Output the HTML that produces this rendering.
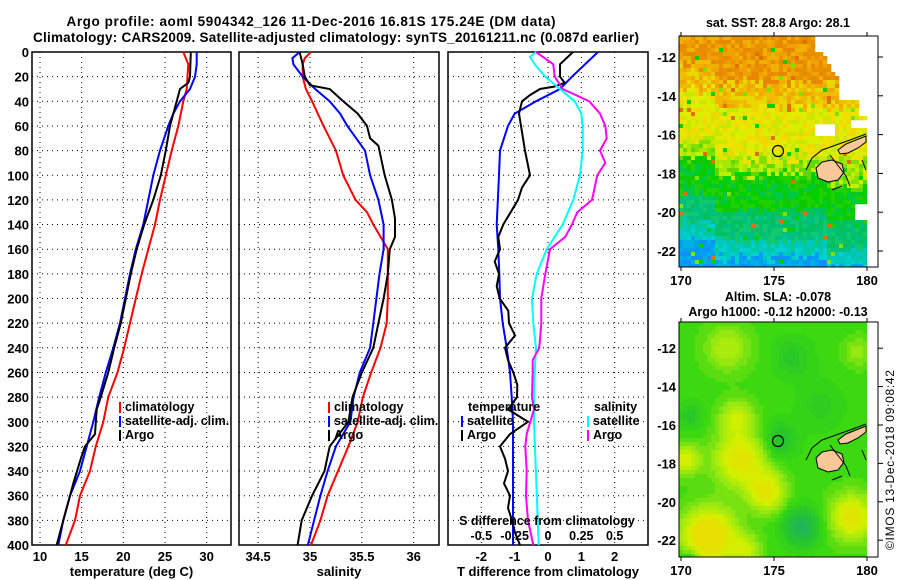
<!DOCTYPE html>
<html><head><meta charset="utf-8"><title>Argo profile</title>
<style>
html,body{margin:0;padding:0;background:#fff;}
svg{display:block;font-family:"Liberation Sans",sans-serif;font-weight:bold;}
</style></head>
<body>
<svg id="chart" width="900" height="580" viewBox="0 0 900 580" xmlns="http://www.w3.org/2000/svg">
<text x="311" y="26" font-size="13.5" text-anchor="middle" textLength="489">Argo profile: aoml 5904342_126 11-Dec-2016 16.81S 175.24E (DM data)</text>
<text x="336" y="42" font-size="13.5" text-anchor="middle" textLength="606">Climatology: CARS2009. Satellite-adjusted climatology: synTS_20161211.nc (0.087d earlier)</text>
<g id="maps"></g>
<g id="plots"></g>
<text transform="translate(894,460) rotate(-90)" font-size="12" font-weight="normal" text-anchor="middle" textLength="180">©IMOS 13-Dec-2018 09:08:42</text>
</svg>
<script>
// ---- data (depth in dbar) ----
const depthTick = [0,20,40,60,80,100,120,140,160,180,200,220,240,260,280,300,320,340,360,380,400];
const tempTicks = [10,15,20,25,30];
const salTicks = [34.5,35,35.5,36];
const tdiffTicks = [-2,-1,0,1,2];
const sdiffTicks = [-0.5,-0.25,0,0.25,0.5];

const tClimDepth = [0,10,30,40,60,80,100,120,140,160,180,200,220,240,260,280,300,320,340,360,380,400];
const tClim      = [27.2,27.8,27.6,27.2,26.6,25.8,25.1,24.4,23.8,23.0,22.2,21.5,20.8,20.1,19.3,18.2,17.6,16.7,16.0,14.8,14.2,13.1];
const tSatDepth = [0,10,20,30,40,50,60,80,100,120,140,160,180,200,220,240,260,280,300,320,340,360,380,400];
const tSat      = [28.8,28.8,28.6,28.0,26.8,26.0,25.4,24.4,23.6,23.0,22.4,21.5,20.8,20.2,19.6,18.8,17.9,17.1,16.4,15.6,14.8,13.6,12.8,12.2];
const tArgoDepth = [0,20,25,30,40,60,80,100,120,140,160,180,200,220,240,260,280,290,310,320,330,350,360,380,400];
const tArgo      = [28.1,28.0,27.8,26.8,26.4,25.6,25.1,24.5,23.6,22.5,21.6,20.9,20.3,19.7,18.9,18.2,17.3,16.8,16.6,15.4,14.9,14.0,13.6,12.8,12.0];

const sClimDepth = [0,5,10,20,30,40,60,80,100,120,130,140,160,180,200,220,240,260,280,300,320,340,360,380,400];
const sClim      = [35.01,34.95,34.93,34.93,34.96,35.02,35.13,35.25,35.32,35.44,35.55,35.61,35.75,35.75,35.75,35.74,35.68,35.59,35.51,35.46,35.37,35.27,35.17,35.10,35.01];
const sSatDepth = [0,5,10,20,30,40,50,60,80,100,120,140,160,180,200,220,240,260,280,300,320,340,360,380,400];
const sSat      = [34.90,34.83,34.84,34.93,35.05,35.19,35.29,35.36,35.53,35.58,35.66,35.71,35.71,35.67,35.64,35.61,35.58,35.48,35.42,35.39,35.25,35.17,35.10,35.04,34.98];
const sArgoDepth = [0,10,20,27,30,40,50,60,70,76,100,120,135,150,160,180,200,220,240,260,280,300,320,340,350,360,380,400];
const sArgo      = [34.90,34.93,34.95,35.00,35.19,35.32,35.46,35.55,35.58,35.66,35.72,35.79,35.82,35.82,35.77,35.75,35.71,35.66,35.61,35.50,35.41,35.37,35.19,35.14,35.08,35.02,34.92,34.88];

const dTSatDepth = [0,20,30,40,50,60,80,100,140,160,180,200,220,240,260,280,300,400];
const dTSat      = [1.5,0.72,0.36,-0.36,-1.0,-1.2,-1.44,-1.47,-1.54,-1.49,-1.46,-1.44,-1.36,-1.24,-1.14,-1.09,-1.05,-1.05];
const dTArgoDepth = [0,10,20,25,28,30,35,40,50,60,70,80,100,110,120,140,150,160,170,180,190,200,210,220,230,240,250,260,270,280,290,300,310,320,330,340,350,360,370,380,390,400];
const dTArgo      = [0.75,0.36,0.36,0.5,0.2,-0.24,-0.54,-0.78,-0.87,-0.81,-0.75,-0.69,-0.54,-0.78,-0.9,-1.34,-1.49,-1.44,-1.6,-1.47,-1.54,-1.45,-1.19,-1.17,-0.99,-1.29,-1.2,-1.04,-0.92,-0.93,-1.2,-0.6,-1.14,-1.44,-1.29,-1.2,-1.32,-1.14,-1.2,-1.08,-0.99,-0.84];
const dSSatDepth = [0,4,10,20,30,40,50,60,80,100,120,140,160,180,200,220,240,260,280,300,400];
const dSSat      = [-0.09,-0.135,-0.1,-0.02,0.09,0.2,0.25,0.26,0.26,0.24,0.19,0.11,-0.01,-0.085,-0.12,-0.11,-0.09,-0.1,-0.105,-0.105,-0.07];
const dSArgoDepth = [0,10,20,30,40,50,60,70,80,90,100,120,130,140,150,160,180,200,220,240,250,260,280,290,310,320,340,360,380,400];
const dSArgo      = [-0.09,0.04,0.05,0.11,0.31,0.39,0.43,0.44,0.39,0.43,0.37,0.33,0.22,0.18,0.13,0.015,-0.02,-0.05,-0.05,-0.065,-0.115,-0.115,-0.12,-0.105,-0.16,-0.17,-0.16,-0.165,-0.15,-0.11];

// ---- scales ----
const yD = d => 52 + d * 1.2325;
const xT = t => 40 + (t - 10) * 8.333;
const xS = s => 310 + (s - 35) * 103.7;
const xDT = v => 548 + v * 33.33;
const xDS = v => 548 + v * 133.33;

const NS = "http://www.w3.org/2000/svg";
function mk(tag, attrs, parent, text) {
  const e = document.createElementNS(NS, tag);
  for (const k in attrs) e.setAttribute(k, attrs[k]);
  if (text !== undefined) e.textContent = text;
  parent.appendChild(e);
  return e;
}
const plots = document.getElementById('plots');
const maps = document.getElementById('maps');

function panel(name, x0, x1, xticks, xf, labelFn, title) {
  const g = mk('g', {}, plots);
  
  
  const y0 = 52, y1 = 545;
  depthTick.forEach(d => {
    if (d > 0 && d < 400) {
      const l = mk('line', {x1:x0, x2:x1, y1:yD(d), y2:yD(d), stroke:'#000', 'stroke-width':1, 'stroke-dasharray':'1,4'}, g);
      
      
    }
  });
  xticks.forEach(t => {
    const x = xf(t);
    const l = mk('line', {x1:x, x2:x, y1:y0, y2:y1, stroke:'#000', 'stroke-width':1, 'stroke-dasharray':'1,4'}, g);
    
    
    if (labelFn) {
      const tx = mk('text', {x:x, y:561, 'font-size':13, 'text-anchor':'middle'}, g, labelFn(t));
      
      
    }
  });
  const r = mk('rect', {x:x0, y:y0, width:x1-x0, height:y1-y0, fill:'none', stroke:'#000', 'stroke-width':1.5}, g);
  
  
  const tt = mk('text', {x:(x0+x1)/2, y:576, 'font-size':13, 'text-anchor':'middle'}, g, title);
  
  
  return g;
}

function series(g, name, depths, vals, xf, color) {
  const pts = depths.map((d, i) => xf(vals[i]).toFixed(1) + ',' + yD(d).toFixed(1)).join(' ');
  const p = mk('polyline', {points:pts, fill:'none', stroke:color, 'stroke-width':2}, g);
  
  
}

function legend(g, x, y, color, label, name) {
  const b = mk('line', {x1:x, x2:x, y1:y-9, y2:y+2, stroke:color, 'stroke-width':2}, g);
  
  
  const t = mk('text', {x:x+5, y:y, 'font-size':12.5}, g, label);
  
  
}

depthTick.forEach(d => {
  const t = mk('text', {x:29, y:yD(d)+5, 'font-size':13, 'text-anchor':'end'}, plots, String(d));
  
  
});

const g1 = panel('temperature-panel', 32, 231, tempTicks, xT, t => String(t), 'temperature (deg C)');
series(g1, 'temp-climatology-line', tClimDepth, tClim, xT, '#ff0000');
series(g1, 'temp-satellite-line', tSatDepth, tSat, xT, '#0000ff');
series(g1, 'temp-argo-line', tArgoDepth, tArgo, xT, '#000000');
legend(g1, 120, 411, '#ff0000', 'climatology', 'legend-climatology');
legend(g1, 120, 425, '#0000ff', 'satellite-adj. clim.', 'legend-satellite-adj');
legend(g1, 120, 439, '#000000', 'Argo', 'legend-argo');

const g2 = panel('salinity-panel', 239, 439, salTicks, xS, t => String(t), 'salinity');
series(g2, 'sal-climatology-line', sClimDepth, sClim, xS, '#ff0000');
series(g2, 'sal-satellite-line', sSatDepth, sSat, xS, '#0000ff');
series(g2, 'sal-argo-line', sArgoDepth, sArgo, xS, '#000000');
legend(g2, 329, 411, '#ff0000', 'climatology', 'legend-climatology');
legend(g2, 329, 425, '#0000ff', 'satellite-adj. clim.', 'legend-satellite-adj');
legend(g2, 329, 439, '#000000', 'Argo', 'legend-argo');

const g3 = panel('difference-panel', 448, 648, tdiffTicks, xDT, t => String(t), 'T difference from climatology');
series(g3, 'dtemp-satellite-line', dTSatDepth, dTSat, xDT, '#0000ff');
series(g3, 'dtemp-argo-line', dTArgoDepth, dTArgo, xDT, '#000000');
series(g3, 'dsal-satellite-line', dSSatDepth, dSSat, xDS, '#00ffff');
series(g3, 'dsal-argo-line', dSArgoDepth, dSArgo, xDS, '#ff00ff');
(function(){
  const t1 = mk('text', {x:468, y:411, 'font-size':12.5}, g3, 'temperature');
  
  
  const t2 = mk('text', {x:594, y:411, 'font-size':12.5}, g3, 'salinity');
  
  
  legend(g3, 462, 425, '#0000ff', 'satellite', 'legend-t-satellite');
  legend(g3, 462, 439, '#000000', 'Argo', 'legend-t-argo');
  legend(g3, 588, 425, '#00ffff', 'satellite', 'legend-s-satellite');
  legend(g3, 588, 439, '#ff00ff', 'Argo', 'legend-s-argo');
  const st = mk('text', {x:547, y:525, 'font-size':12.5, 'text-anchor':'middle'}, g3, 'S difference from climatology');
  
  
  sdiffTicks.forEach(v => {
    const t = mk('text', {x:xDS(v), y:540, 'font-size':12.5, 'text-anchor':'middle'}, g3, String(v));
    
    
  });
})();

// ---- maps (decorative raster) ----
function hash(i, j) { let h = (i * 374761393 + j * 668265263) >>> 0; h = ((h ^ (h >>> 13)) * 1274126177) >>> 0; return (h & 0xffff) / 65535; }
function pick(arr, i, j) { return arr[Math.floor(hash(i, j) * arr.length) % arr.length]; }

function mapFrame(name, top, bottom, title1, title2, cellFn, circY, islandsDy) {
  const g = mk('g', {}, maps);
  
  
  const x0 = 679, x1 = 868, lonX = lon => 681 + (lon - 170) * 18.6;
  const latRef = top.latRef, latY = lat => latRef.y - (lat - latRef.lat) * latRef.ppd;
  const cells = mk('g', {}, g);
  
  
  let html = '';
  for (let y = top.y; y < bottom; y += 4) {
    for (let x = x0; x < x1; x += 4) {
      const lon = 170 + (x + 2 - 681) / 18.6;
      const lat = latRef.lat + (latRef.y - (y + 2)) / latRef.ppd;
      const c = cellFn(lon, lat, x, y);
      if (c) html += '<rect x="' + x + '" y="' + y + '" width="4.3" height="' + Math.min(4.3, bottom - y) + '" fill="' + c + '"/>';
    }
  }
  cells.innerHTML = html;
  const dy = islandsDy;
  const isl = mk('g', {}, g);
  
  
  mk('path', {d:'M816,'+(168+dy)+' L822,'+(162+dy)+' L832,'+(160+dy)+' L842,'+(164+dy)+' L844,'+(172+dy)+' L838,'+(180+dy)+' L828,'+(182+dy)+' L818,'+(178+dy)+' Z', fill:'#f8c898', stroke:'#000', 'stroke-width':1}, isl);
  mk('path', {d:'M838,'+(150+dy)+' L846,'+(144+dy)+' L856,'+(140+dy)+' L866,'+(136+dy)+' L866,'+(142+dy)+' L858,'+(148+dy)+' L848,'+(153+dy)+' L840,'+(154+dy)+' Z', fill:'#f8c898', stroke:'#000', 'stroke-width':1}, isl);
  mk('path', {d:'M812,'+(158+dy)+' L822,'+(150+dy)+' L836,'+(145+dy)+' L850,'+(140+dy)+' L866,'+(134+dy)+' M812,'+(158+dy)+' L806,'+(170+dy)+' M830,'+(155+dy)+' L846,'+(176+dy)+' L850,'+(186+dy)+' M832,'+(190+dy)+' L842,'+(186+dy)+' M862,'+(160+dy)+' L866,'+(170+dy), fill:'none', stroke:'#000', 'stroke-width':1}, isl);
  const c = mk('circle', {cx:778, cy:circY, r:5.5, fill:'none', stroke:'#000', 'stroke-width':1.2}, g);
  
  
  const fr = mk('rect', {x:679, y:top.y, width:199, height:bottom - top.y, fill:'none', stroke:'#000', 'stroke-width':1}, g);
  
  
  [-12,-14,-16,-18,-20,-22].forEach(lat => {
    const y = latY(lat);
    mk('line', {x1:878, x2:883, y1:y, y2:y, stroke:'#000'}, g);
    const t = mk('text', {x:676, y:y+5, 'font-size':13, 'text-anchor':'end'}, g, String(lat));
    
    
  });
  [170,175,180].forEach(lon => {
    const x = lonX(lon);
    mk('line', {x1:x, x2:x, y1:top.y - 4, y2:top.y, stroke:'#000'}, g);
    mk('line', {x1:x, x2:x, y1:bottom, y2:bottom + 4, stroke:'#000'}, g);
    const t = mk('text', {x:x, y:bottom + 18, 'font-size':13, 'text-anchor':'middle'}, g, String(lon));
    
    
  });
  const t1 = mk('text', {x:778, y:title1.y, 'font-size':12.5, 'text-anchor':'middle'}, g, title1.text);
  
  
  if (title2) {
    const t2 = mk('text', {x:778, y:title2.y, 'font-size':12.5, 'text-anchor':'middle'}, g, title2.text);
    
    
  }
}

function sstColor(lon, lat, x, y) {
  if (lon > 180.05) return null;
  const wl = lat > -11.8 ? 177.3 : lat > -13 ? 177.6 + (-11.8 - lat) * 0.6 : lat > -14.3 ? 178.6 : lat > -15 ? 179.5 : 180.1;
  if (lon > wl) return null;
  if (lat < -15.4 && lat > -16.0 && lon > 177.3 && lon < 178.3) return null;
  if (lat < -15.3 && lat > -15.7 && lon > 179.1) return null;
  if (lat < -19.6 && lat > -20.3 && lon > 179.3) return null;
  let le = lat + (lon < 171.8 ? -0.9 : 0) + (lon > 177.8 && lat < -18 ? 0.6 : 0) + (hash(x, y) - 0.5) * 0.6;
  if (hash(y, x) > 0.96) return pick(['#00d000','#e07000','#80e000'], x, y);
  if (le > -13.3) return pick(['#f0a000','#e89000','#f0b000','#e88800'], x, y);
  if (le > -14.6) return pick(['#f0c000','#e8d800','#f0a800','#f0b800'], x, y);
  if (le > -17.2) return pick(['#e8e800','#f0d800','#d8f000','#c8e800','#f0e000'], x, y);
  if (le > -18.1) return pick(['#a8e800','#80e000','#c0f000','#60d800'], x, y);
  if (le > -20.0) return pick(['#00d000','#10c800','#20d000','#00c840'], x, y);
  if (le > -21.4) return pick(['#00c060','#00c080','#10c870'], x, y);
  if (le > -22.3) return pick(['#00c8a0','#00c8c0','#00d0d0'], x, y);
  return pick(['#00a0f0','#1090ff','#00b0e0'], x, y);
}

const blobs = [[173.2,-17.8,0.85,1.4],[173.0,-15.6,0.55,0.9],[174.6,-19.5,0.8,1.0],[171.5,-21.8,1.2,1.4],[173.5,-22.5,0.5,0.8],[179.2,-20.8,0.85,1.2],[170.2,-17.8,0.65,0.8],[172.5,-12,0.45,1.2],[176.5,-21.3,-0.9,0.9],[175.3,-16.8,-0.45,0.9],[176,-12.5,-0.3,1],[170.5,-23,-0.4,0.6],[170.5,-15.5,-0.3,0.7],[177.5,-15,-0.2,1.2],[179.5,-12.2,0.3,0.8]];
const slaStops = [[-1,[16,176,128]],[-0.5,[32,184,80]],[0,[40,200,40]],[0.3,[60,216,16]],[0.6,[150,232,16]],[0.9,[208,240,0]],[1.2,[232,224,0]]];
function slaColor(lon, lat) {
  if (lon > 180.05) return null;
  let v = 0.3;
  blobs.forEach(b => { const d2 = ((lon - b[0]) ** 2 + (lat - b[1]) ** 2) / (b[3] * b[3]); v += b[2] * Math.exp(-d2); });
  v = Math.max(-1, Math.min(1.2, Math.round(v * 10) / 10));
  for (let i = 1; i < slaStops.length; i++) {
    if (v <= slaStops[i][0]) {
      const a = slaStops[i-1], b = slaStops[i], f = (v - a[0]) / (b[0] - a[0]);
      const c = a[1].map((q, k) => Math.round(q + (b[1][k] - q) * f));
      return 'rgb(' + c.join(',') + ')';
    }
  }
  return 'rgb(232,224,0)';
}

mapFrame('sst-map', {y:36, latRef:{lat:-12, y:57, ppd:19.4}}, 267,
  {y:27, text:'sat. SST: 28.8 Argo: 28.1'}, null, sstColor, 151, 0);
mapFrame('sla-map', {y:322, latRef:{lat:-16, y:425, ppd:19.2}}, 557,
  {y:301, text:'Altim. SLA: -0.078'}, {y:316, text:'Argo h1000: -0.12 h2000: -0.13'}, slaColor, 441, 290);
</script>
</body></html>
